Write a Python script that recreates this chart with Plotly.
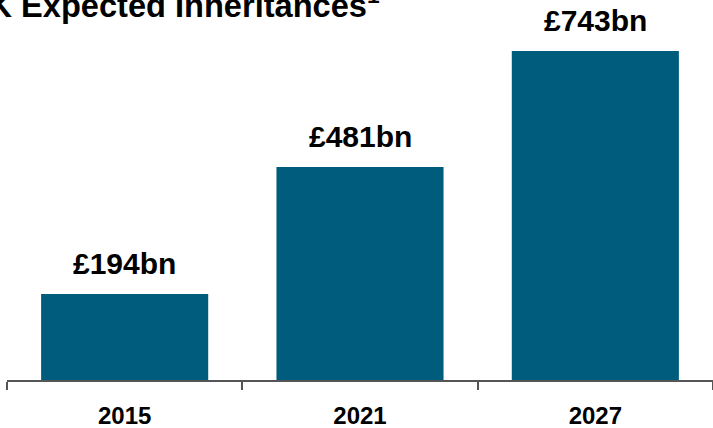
import plotly.graph_objects as go

# UK expected inheritances by year (£bn)
years = ["2015", "2021", "2027"]
inheritances_bn = [194, 481, 743]
value_labels = [f"£{v}bn" for v in inheritances_bn]

BAR_COLOR = "#005C7D"
FONT = "Liberation Sans, Arial, sans-serif"

fig = go.Figure(
    go.Bar(
        x=years,
        y=inheritances_bn,
        marker=dict(color=BAR_COLOR, line=dict(width=0)),
        width=0.71,
        hoverinfo="skip",
    )
)

# Value labels above each bar (category index positions)
for i, (val, lab) in enumerate(zip(inheritances_bn, value_labels)):
    fig.add_annotation(
        x=i, y=val, xref="x", yref="y",
        text=f"<b>{lab}</b>", showarrow=False,
        yanchor="bottom", yshift=12,
        font=dict(family=FONT, size=30, color="#000000"),
    )

# Chart title
fig.add_annotation(
    x=-0.062, y=1 - 26 / 380, xref="paper", yref="paper",
    xanchor="left", yanchor="bottom",
    text="<b>UK Expected Inheritances<sup>1</sup></b>", showarrow=False,
    font=dict(family=FONT, size=32.6, color="#000000"),
)

fig.update_layout(
    width=713, height=428,
    margin=dict(l=7, r=0, t=0, b=48, autoexpand=False),
    paper_bgcolor="white", plot_bgcolor="white",
    showlegend=False,
    xaxis=dict(
        type="category",
        range=[-0.5, 2.5],
        automargin=False,
        tickson="boundaries",
        ticks="outside", ticklen=8, tickwidth=1.5, tickcolor="#555555",
        showline=True, linecolor="#555555", linewidth=1.5,
        showgrid=False, zeroline=False,
        tickfont=dict(family=FONT, size=24, color="#000000"),
        tickprefix="<b>", ticksuffix="</b>",
        ticklabelstandoff=13,
    ),
    yaxis=dict(range=[0, 858], visible=False, showgrid=False, zeroline=False),
)

fig.write_html("out.html")
